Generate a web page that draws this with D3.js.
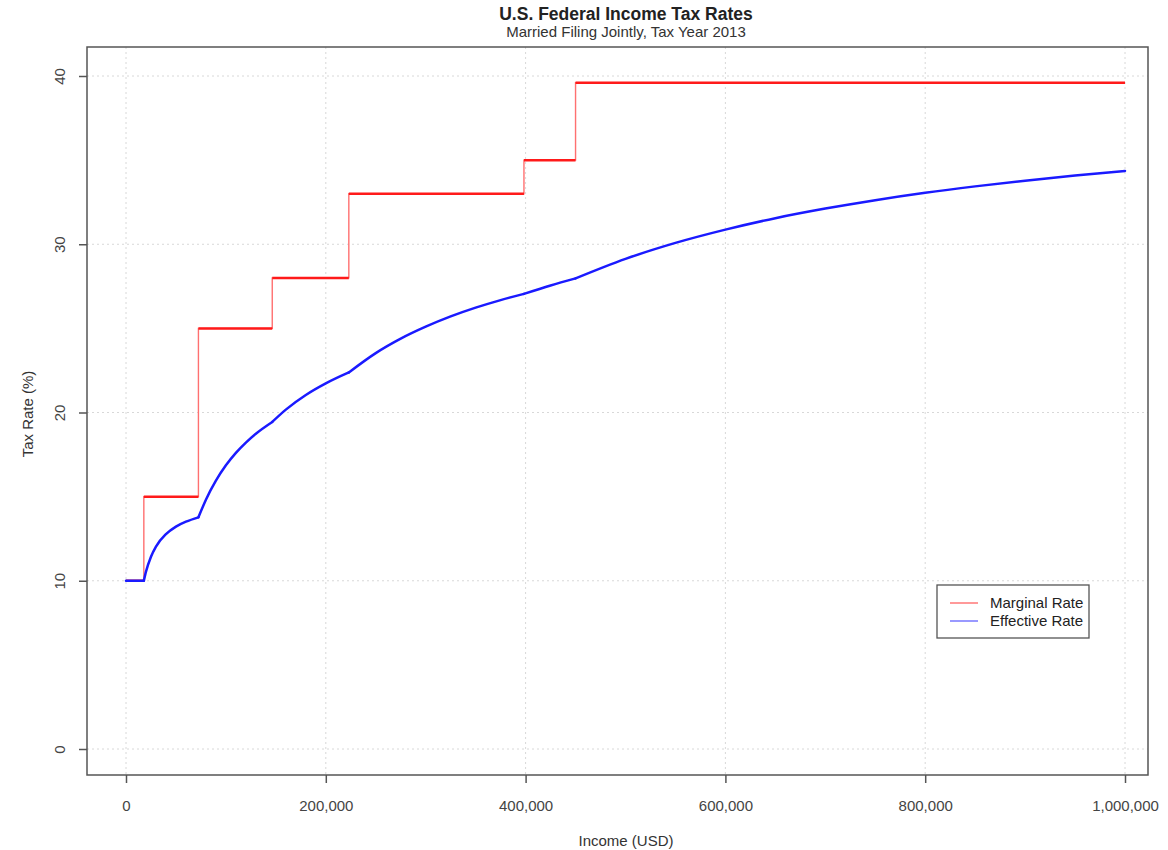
<!DOCTYPE html>
<html><head><meta charset="utf-8">
<script src="https://cdn.jsdelivr.net/npm/d3@7"></script>
<style>body{margin:0;background:#fff;font-family:"Liberation Sans",Arial,sans-serif;}</style>
</head><body><svg id="c" width="1168" height="850"></svg>
<script>
// Marginal rate brackets (income threshold, rate %)
const bracketStarts = [0, 17850, 72500, 146400, 223050, 398350, 450000];
const bracketRates  = [10, 15, 25, 28, 33, 35, 39.6];
const maxIncome = 1000000;
// Effective rate (income, %)
const effIncome = [0, 17850, 20000, 25000, 30000, 40000, 50000, 60000, 72500, 80000, 90000, 100000, 110000, 120000, 130000, 146400, 160000, 180000, 200000, 223050, 250000, 275000, 300000, 325000, 350000, 375000, 398350, 425000, 450000, 500000, 550000, 600000, 650000, 700000, 750000, 800000, 850000, 900000, 950000, 1000000];
const effRate   = [10, 10, 10.54, 11.43, 12.03, 12.77, 13.22, 13.51, 13.77, 14.82, 15.95, 16.86, 17.60, 18.21, 18.74, 19.44, 20.17, 21.04, 21.73, 22.38, 23.53, 24.39, 25.10, 25.71, 26.23, 26.68, 27.05, 27.55, 27.97, 29.13, 30.08, 30.87, 31.55, 32.12, 32.62, 33.06, 33.44, 33.78, 34.09, 34.36];
const xTicks = [0, 200000, 400000, 600000, 800000, 1000000];
const yTicks = [0, 10, 20, 30, 40];
const seriesNames = ["Marginal Rate", "Effective Rate"];
const seriesColors = ["#ff1a1a", "#1a1aff"];

const FONT = "Liberation Sans, Arial, sans-serif";
const svg = d3.select("#c");
const box = {l: 87, r: 1148, t: 47, b: 775};
const x = d3.scaleLinear().domain([0, 1000000]).range([126, 1125]);
const y = d3.scaleLinear().domain([0, 40]).range([749, 76]);

// grid
const g = svg.append("g");
g.selectAll(".gx").data(xTicks).join("line")
  .attr("x1", d => x(d)).attr("x2", d => x(d)).attr("y1", box.t).attr("y2", box.b)
  .attr("stroke", "#d8d8d8").attr("stroke-width", 1).attr("stroke-dasharray", "2,3");
g.selectAll(".gy").data(yTicks).join("line")
  .attr("y1", d => y(d)).attr("y2", d => y(d)).attr("x1", box.l).attr("x2", box.r)
  .attr("stroke", "#d8d8d8").attr("stroke-width", 1).attr("stroke-dasharray", "2,3");

// marginal step data
const margPts = bracketStarts.map((s, i) => [s, bracketRates[i]]);
margPts.push([maxIncome, bracketRates[bracketRates.length - 1]]);
const stepLine = d3.line().x(d => x(d[0])).y(d => y(d[1])).curve(d3.curveStepAfter);
svg.append("path").attr("d", stepLine(margPts)).attr("fill", "none")
  .attr("stroke", "#ff7070").attr("stroke-width", 1.4);
// horizontal segments thicker
bracketStarts.forEach((s, i) => {
  const e = i < bracketStarts.length - 1 ? bracketStarts[i + 1] : maxIncome;
  svg.append("line").attr("x1", x(s)).attr("x2", x(e)).attr("y1", y(bracketRates[i])).attr("y2", y(bracketRates[i]))
    .attr("stroke", seriesColors[0]).attr("stroke-width", 2.5);
});

// effective: smooth within each bracket, kinks at bracket thresholds
const effPts = effIncome.map((v, i) => [v, effRate[i]]);
const effLine = d3.line().x(d => x(d[0])).y(d => y(d[1])).curve(d3.curveMonotoneX);
bracketStarts.forEach((s, i) => {
  const e = i < bracketStarts.length - 1 ? bracketStarts[i + 1] : maxIncome;
  const seg = effPts.filter(p => p[0] >= s && p[0] <= e);
  if (seg.length > 1)
    svg.append("path").attr("d", effLine(seg)).attr("fill", "none")
      .attr("stroke", seriesColors[1]).attr("stroke-width", 2.5).attr("stroke-linecap", "round");
});

// frame
svg.append("rect").attr("x", box.l).attr("y", box.t).attr("width", box.r - box.l).attr("height", box.b - box.t)
  .attr("fill", "none").attr("stroke", "#555").attr("stroke-width", 1.5);

// x axis
const xa = svg.append("g").attr("transform", `translate(0,${box.b})`)
  .call(d3.axisBottom(x).tickValues(xTicks).tickFormat(d3.format(",")).tickSize(8).tickPadding(17));
xa.select(".domain").remove();
xa.selectAll("line").attr("stroke", "#555").attr("stroke-width", 1.5);
xa.selectAll("text").attr("fill", "#444").style("font-size", "15px").style("font-family", FONT);

// y axis
const ya = svg.append("g").attr("transform", `translate(${box.l},0)`)
  .call(d3.axisLeft(y).tickValues(yTicks).tickSize(8).tickPadding(0));
ya.select(".domain").remove();
ya.selectAll("line").attr("stroke", "#555").attr("stroke-width", 1.5);
ya.selectAll("text").attr("fill", "#444").style("font-size", "15px").style("font-family", FONT)
  .attr("text-anchor", "middle").attr("dy", null).attr("x", null)
  .attr("transform", "translate(-22,0) rotate(-90)");

// titles
svg.append("text").attr("x", 626).attr("y", 20).attr("text-anchor", "middle").style("font-family", FONT)
  .style("font-size", "17.5px").style("font-weight", "bold").attr("fill", "#222").text("U.S. Federal Income Tax Rates");
svg.append("text").attr("x", 626).attr("y", 37).attr("text-anchor", "middle").style("font-family", FONT)
  .style("font-size", "15px").attr("fill", "#333").text("Married Filing Jointly, Tax Year 2013");
svg.append("text").attr("x", 626).attr("y", 846).attr("text-anchor", "middle").style("font-family", FONT)
  .style("font-size", "15px").attr("fill", "#333").text("Income (USD)");
svg.append("text").attr("transform", "translate(33,414) rotate(-90)").attr("text-anchor", "middle").style("font-family", FONT)
  .style("font-size", "15px").attr("fill", "#333").text("Tax Rate (%)");

// legend
const lg = svg.append("g");
lg.append("rect").attr("x", 937).attr("y", 585).attr("width", 152).attr("height", 53)
  .attr("fill", "#fff").attr("stroke", "#555").attr("stroke-width", 1.3);
seriesNames.forEach((n, i) => {
  const yy = 603 + i * 18;
  lg.append("line").attr("x1", 950).attr("x2", 978).attr("y1", yy).attr("y2", yy)
    .attr("stroke", seriesColors[i]).attr("stroke-opacity", 0.6).attr("stroke-width", 1.5);
  lg.append("text").attr("x", 990).attr("y", yy + 5).style("font-family", FONT)
    .style("font-size", "15px").attr("fill", "#222").text(n);
});
</script></body></html>
